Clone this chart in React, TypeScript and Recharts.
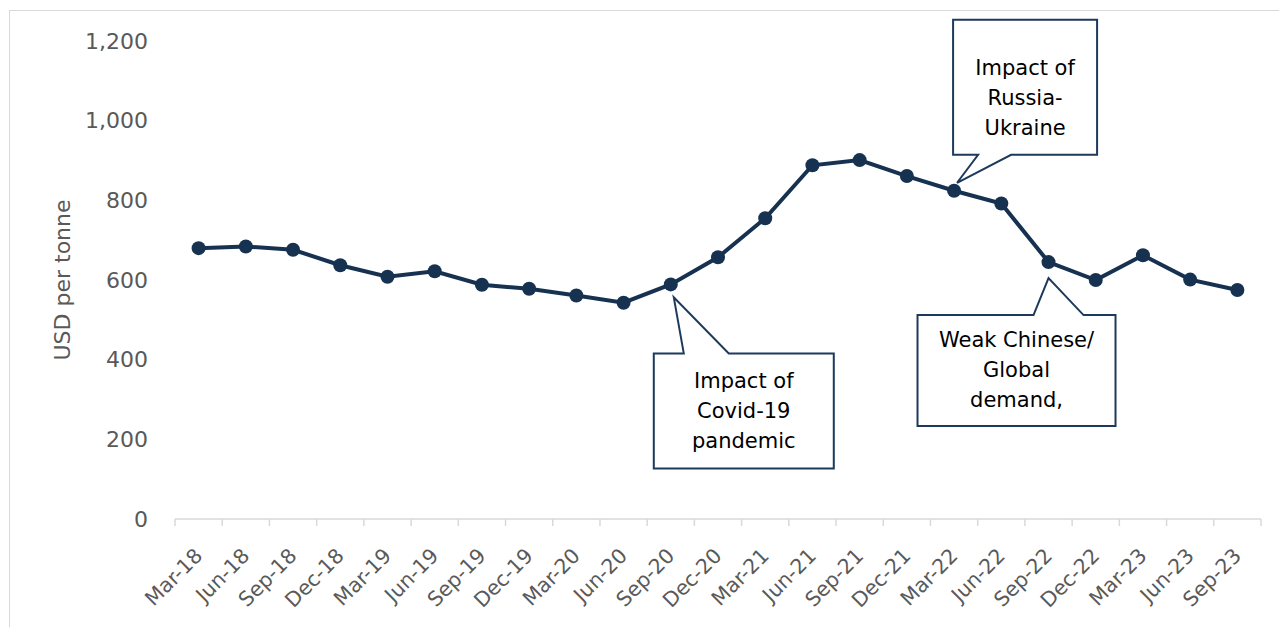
import React from 'react';
import { LineChart, Line, XAxis, YAxis, ReferenceDot } from 'recharts';

const quarters = [
  'Mar-18', 'Jun-18', 'Sep-18', 'Dec-18',
  'Mar-19', 'Jun-19', 'Sep-19', 'Dec-19',
  'Mar-20', 'Jun-20', 'Sep-20', 'Dec-20',
  'Mar-21', 'Jun-21', 'Sep-21', 'Dec-21',
  'Mar-22', 'Jun-22', 'Sep-22', 'Dec-22',
  'Mar-23', 'Jun-23', 'Sep-23',
];

const pricePerTonne = [
  680, 684, 676, 637,
  608, 622, 588, 578,
  561, 543, 589, 657,
  755, 888, 901, 861,
  824, 792, 645, 600,
  662, 601, 575,
];

const yTicks = [0, 200, 400, 600, 800, 1000, 1200];

const covidNote = ['Impact of', 'Covid-19', 'pandemic'];
const warNote = ['Impact of', 'Russia-', 'Ukraine'];
const demandNote = ['Weak Chinese/', 'Global', 'demand,'];

const chartData = quarters.map((q, i) => ({ quarter: q, price: pricePerTonne[i] }));

const NAVY = '#163250';
const GREY_TEXT = '#595959';
const FONT = '"DejaVu Sans", Verdana, sans-serif';

type CalloutGeom = {
  box: [number, number, number, number]; // left, top, right, bottom relative to the dot
  tip: [number, number];
  base: [number, number];
  side: 'top' | 'bottom';
  textDy: number;
};

const makeCallout = (lines: string[], g: CalloutGeom) => (props: any) => {
  const { cx, cy } = props;
  if (cx == null || cy == null) return <g />;
  const l = cx + g.box[0];
  const t = cy + g.box[1];
  const r = cx + g.box[2];
  const b = cy + g.box[3];
  const tx = cx + g.tip[0];
  const ty = cy + g.tip[1];
  const b1 = cx + g.base[0];
  const b2 = cx + g.base[1];
  const d =
    g.side === 'top'
      ? `M${l},${t} L${b1},${t} L${tx},${ty} L${b2},${t} L${r},${t} L${r},${b} L${l},${b} Z`
      : `M${l},${t} L${r},${t} L${r},${b} L${b2},${b} L${tx},${ty} L${b1},${b} L${l},${b} Z`;
  const midX = (l + r) / 2;
  const midY = (t + b) / 2 + g.textDy;
  const lh = 30;
  return (
    <g>
      <path d={d} fill="#ffffff" stroke="#1d3a5c" strokeWidth={2} strokeLinejoin="miter" />
      {lines.map((s, i) => (
        <text
          key={s}
          x={midX}
          y={midY + (i - (lines.length - 1) / 2) * lh}
          dy="0.36em"
          textAnchor="middle"
          fontFamily={FONT}
          fontSize={21}
          fill="#000000"
        >
          {s}
        </text>
      ))}
    </g>
  );
};

const XTick = (props: any) => {
  const { x, y, payload, index, visibleTicksCount } = props;
  const half = payload && payload.offset ? payload.offset : 23.6;
  const isLast = index === (visibleTicksCount ?? quarters.length) - 1;
  return (
    <g>
      <line x1={x - half} y1={y} x2={x - half} y2={y + 7} stroke="#d9d9d9" strokeWidth={1.5} />
      {isLast && <line x1={x + half} y1={y} x2={x + half} y2={y + 7} stroke="#d9d9d9" strokeWidth={1.5} />}
      <text
        transform={`translate(${x + 5},${y + 38}) rotate(-45)`}
        textAnchor="end"
        fontFamily={FONT}
        fontSize={20.5}
        fill={GREY_TEXT}
      >
        {payload.value}
      </text>
    </g>
  );
};

const App: React.FC = () => {
  return (
    <div style={{ position: 'relative', width: 1279, height: 627, background: '#fff' }}>
      <style>{'body{margin:0;overflow:hidden;}'}</style>
      <div
        style={{
          position: 'absolute',
          left: 9,
          top: 10,
          width: 1300,
          height: 700,
          border: '1.5px solid #d9d9d9',
          boxSizing: 'border-box',
        }}
      />
      <div style={{ position: 'absolute', left: 0, top: 0 }}>
        <LineChart
          width={1279}
          height={627}
          data={chartData}
          margin={{ top: 41, right: 18, bottom: 0, left: 0 }}
        >
          <XAxis
            dataKey="quarter"
            scale="band"
            interval={0}
            height={108}
            tickSize={0}
            tickMargin={0}
            tickLine={false}
            axisLine={{ stroke: '#d9d9d9', strokeWidth: 1.5 }}
            tick={<XTick />}
          />
          <YAxis
            width={175}
            domain={[0, 1200]}
            ticks={yTicks}
            axisLine={false}
            tickLine={false}
            tickSize={0}
            tickMargin={27}
            tick={{ fill: GREY_TEXT, fontSize: 22, fontFamily: FONT }}
            tickFormatter={(v: number) => v.toLocaleString('en-US')}
            label={{
              value: 'USD per tonne',
              angle: -90,
              position: 'center',
              dx: -25,
              fill: GREY_TEXT,
              fontSize: 22,
              fontFamily: FONT,
            }}
          />
          <Line
            dataKey="price"
            stroke={NAVY}
            strokeWidth={4}
            dot={{ r: 7, fill: NAVY, stroke: 'none' }}
            isAnimationActive={false}
          />
          <ReferenceDot
            x="Sep-20"
            y={pricePerTonne[10]}
            shape={makeCallout(covidNote, {
              box: [-17, 69, 163, 184],
              tip: [3, 13],
              base: [13, 58],
              side: 'top',
              textDy: 0,
            })}
          />
          <ReferenceDot
            x="Mar-22"
            y={pricePerTonne[16]}
            shape={makeCallout(warNote, {
              box: [-1, -171, 143, -36],
              tip: [3, -8],
              base: [24, 57],
              side: 'bottom',
              textDy: 10,
            })}
          />
          <ReferenceDot
            x="Sep-22"
            y={pricePerTonne[18]}
            shape={makeCallout(demandNote, {
              box: [-131, 53, 67, 164],
              tip: [0, 16],
              base: [-15, 35],
              side: 'top',
              textDy: -1,
            })}
          />
        </LineChart>
      </div>
    </div>
  );
};

export default App;
